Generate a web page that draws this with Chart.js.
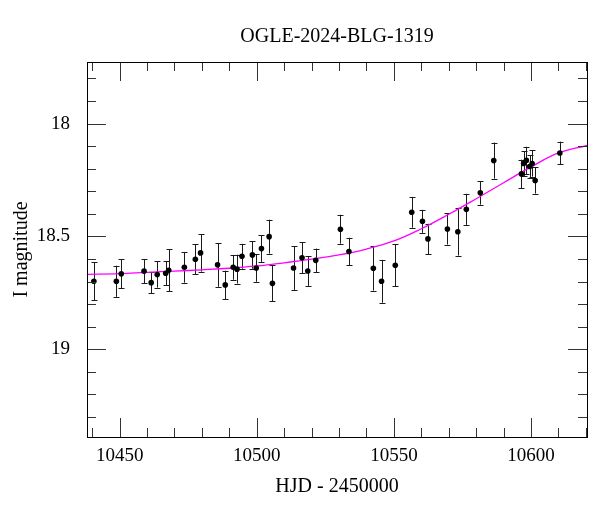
<!DOCTYPE html>
<html>
<head>
<meta charset="utf-8">
<script src="https://cdn.jsdelivr.net/npm/chart.js@4/dist/chart.umd.min.js"></script>
<style>
html,body{margin:0;padding:0;background:#fff;}
#wrap{width:600px;height:512px;}
</style>
</head>
<body>
<div id="wrap"><canvas id="c" width="600" height="512"></canvas></div>
<script>
// Observed photometry (HJD - 2450000, I magnitude, error)
const obsDays = [10440.6, 10448.8, 10450.6, 10458.9, 10461.5, 10463.7, 10466.8, 10467.9, 10473.6, 10477.6,
  10479.5, 10485.7, 10488.5, 10491.4, 10492.8, 10494.6, 10498.4, 10499.8, 10501.7, 10504.5,
  10505.7, 10513.4, 10516.5, 10518.6, 10521.5, 10530.5, 10533.6, 10542.5, 10545.5, 10550.5,
  10556.5, 10560.4, 10562.4, 10569.5, 10573.3, 10576.4, 10581.5, 10586.4, 10596.5, 10597.3,
  10598.3, 10599.5, 10600.4, 10601.5, 10610.5];
const obsMags = [18.699, 18.699, 18.666, 18.654, 18.705, 18.669, 18.663, 18.650, 18.637, 18.601,
  18.573, 18.626, 18.715, 18.637, 18.645, 18.588, 18.582, 18.640, 18.554, 18.501,
  18.708, 18.640, 18.595, 18.653, 18.606, 18.468, 18.567, 18.641, 18.699, 18.628,
  18.393, 18.433, 18.511, 18.467, 18.479, 18.380, 18.307, 18.164, 18.223, 18.177,
  18.163, 18.190, 18.177, 18.252, 18.130];
const obsErrs = [0.084, 0.069, 0.064, 0.054, 0.048, 0.058, 0.053, 0.093, 0.068, 0.066,
  0.083, 0.097, 0.063, 0.055, 0.064, 0.055, 0.061, 0.061, 0.059, 0.075,
  0.080, 0.097, 0.069, 0.066, 0.052, 0.064, 0.061, 0.099, 0.095, 0.093,
  0.068, 0.051, 0.067, 0.069, 0.106, 0.069, 0.052, 0.080, 0.063, 0.055,
  0.060, 0.050, 0.058, 0.058, 0.050];

// Model light curve
const modelDays = [10438, 10450, 10460, 10470, 10480, 10490, 10500, 10510, 10520, 10530,
  10540, 10550, 10560, 10570, 10580, 10590, 10600, 10610, 10620.4];
const modelMags = [18.668, 18.665, 18.659, 18.654, 18.648, 18.641, 18.631, 18.617, 18.601, 18.582,
  18.556, 18.520, 18.466, 18.402, 18.333, 18.262, 18.192, 18.130, 18.097];

// Axis tick labels
const xTickLabels = [10450, 10500, 10550, 10600];
const yTickLabels = [18, 18.5, 19];

const FONT = "'Liberation Serif', 'Times New Roman', serif";

const framePlugin = {
  id: 'frameTicks',
  beforeDatasetsDraw(chart) {
    const ctx = chart.ctx, xs = chart.scales.x, ys = chart.scales.y;
    ctx.save();
    ctx.lineWidth = 1;
    ctx.strokeStyle = '#1a1a1a';
    for (let i = 0; i < obsDays.length; i++) {
      const px = Math.round(xs.getPixelForValue(obsDays[i])) + 0.5;
      const y1 = ys.getPixelForValue(obsMags[i] - obsErrs[i]);
      const y2 = ys.getPixelForValue(obsMags[i] + obsErrs[i]);
      ctx.beginPath();
      ctx.moveTo(px, y1); ctx.lineTo(px, y2);
      ctx.moveTo(px - 3, Math.round(y1) + 0.5); ctx.lineTo(px + 3, Math.round(y1) + 0.5);
      ctx.moveTo(px - 3, Math.round(y2) + 0.5); ctx.lineTo(px + 3, Math.round(y2) + 0.5);
      ctx.stroke();
    }
    ctx.restore();
  },
  afterDraw(chart) {
    const ctx = chart.ctx, a = chart.chartArea, xs = chart.scales.x, ys = chart.scales.y;
    ctx.save();
    ctx.lineWidth = 1;
    ctx.strokeStyle = '#333';
    ctx.beginPath();
    for (let d = 10440; d <= 10620; d += 10) {
      const px = Math.round(xs.getPixelForValue(d)) + 0.5;
      const len = (d % 50 === 0) ? 19 : 9;
      ctx.moveTo(px, a.top); ctx.lineTo(px, a.top + len);
      ctx.moveTo(px, a.bottom); ctx.lineTo(px, a.bottom - len);
    }
    for (let k = 178; k <= 193; k++) {
      const py = Math.round(ys.getPixelForValue(k / 10)) + 0.5;
      const len = (k % 5 === 0) ? 19 : 9;
      ctx.moveTo(a.left, py); ctx.lineTo(a.left + len, py);
      ctx.moveTo(a.right, py); ctx.lineTo(a.right - len, py);
    }
    ctx.stroke();
    ctx.strokeStyle = '#000';
    ctx.strokeRect(Math.round(a.left) + 0.5, Math.round(a.top) + 0.5,
                   Math.round(a.right - a.left), Math.round(a.bottom - a.top));
    ctx.restore();
  }
};

new Chart(document.getElementById('c'), {
  type: 'scatter',
  data: {
    datasets: [
      {
        type: 'line',
        data: modelDays.map((d, i) => ({x: d, y: modelMags[i]})),
        borderColor: '#ff00ff',
        borderWidth: 1.3,
        pointRadius: 0,
        fill: false,
        tension: 0.4,
        order: 2
      },
      {
        data: obsDays.map((d, i) => ({x: d, y: obsMags[i]})),
        backgroundColor: '#000',
        borderColor: '#000',
        pointRadius: 2.8,
        pointBorderWidth: 0,
        order: 1
      }
    ]
  },
  options: {
    responsive: false,
    animation: false,
    events: [],
    layout: { padding: { right: 13, left: 0, top: 0, bottom: 0 } },
    plugins: {
      legend: { display: false },
      tooltip: { enabled: false },
      title: {
        display: true,
        text: 'OGLE-2024-BLG-1319',
        color: '#000',
        fullSize: false,
        font: { family: FONT, size: 20, weight: 'normal', lineHeight: 1.2 },
        padding: { top: 25, bottom: 13 }
      }
    },
    scales: {
      x: {
        type: 'linear',
        min: 10438.1,
        max: 10620.4,
        grid: { display: false, drawTicks: false },
        border: { display: false },
        afterBuildTicks: (s) => { s.ticks = xTickLabels.map(v => ({value: v})); },
        afterFit: (s) => { s.height = 75; },
        ticks: {
          color: '#000',
          padding: 8,
          maxRotation: 0,
          font: { family: FONT, size: 19 },
          callback: (v) => String(v)
        },
        title: {
          display: true,
          text: 'HJD - 2450000',
          color: '#000',
          font: { family: FONT, size: 20 },
          padding: { top: 0, bottom: 13 }
        }
      },
      y: {
        type: 'linear',
        reverse: true,
        min: 17.727,
        max: 19.389,
        grid: { display: false, drawTicks: false },
        border: { display: false },
        afterBuildTicks: (s) => { s.ticks = yTickLabels.map(v => ({value: v})); },
        afterFit: (s) => { s.width = 87; },
        ticks: {
          color: '#000',
          padding: 17,
          font: { family: FONT, size: 19 },
          callback: (v) => String(v)
        },
        title: {
          display: true,
          text: 'I magnitude',
          color: '#000',
          font: { family: FONT, size: 20 },
          padding: { top: 10, bottom: 0 }
        }
      }
    }
  },
  plugins: [framePlugin]
});
</script>
</body>
</html>
